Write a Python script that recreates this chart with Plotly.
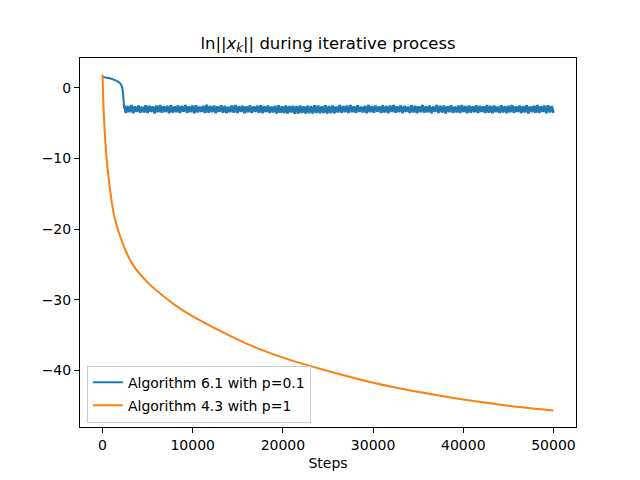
import numpy as np
import plotly.graph_objects as go

# values
orange_steps = [0, 40, 100, 200, 370, 740, 1300, 2220, 3330, 5190, 7040, 8520,
                10200, 13300, 17000, 20700, 24400, 28200, 31900, 35600, 39300,
                43000, 46700, 50000]
orange_vals = [1.9, 0.0, -2.5, -5.2, -8.7, -13.5, -18.2, -22.0, -25.0, -27.8,
               -29.8, -31.2, -32.5, -34.6, -36.8, -38.5, -39.9, -41.2, -42.3,
               -43.2, -44.0, -44.7, -45.3, -45.7]

blue_head_steps = [0, 500, 1000, 1500, 1800, 2000, 2150, 2250, 2320, 2380]
blue_head_vals = [1.55, 1.45, 1.3, 1.05, 0.85, 0.6, 0.2, -0.5, -1.5, -2.8]

# noisy band after the drop (2400 .. 50000)
blue_tail = [
    -2.47, -3.53, -2.56, -3.42, -2.43, -3.57, -2.60, -3.39, -2.51, -3.50, -2.65, -3.46,
    -2.45, -3.55, -2.54, -3.37, -2.62, -3.59, -2.49, -3.44, -2.41, -3.51, -2.58, -3.40,
    -2.52, -3.56, -2.44, -3.47, -2.63, -3.41, -2.48, -3.54, -2.55, -3.35, -2.42, -3.52,
    -2.59, -3.43, -2.50, -3.58, -2.46, -3.45, -2.64, -3.38, -2.53, -3.53, -2.40, -3.49,
    -2.57, -3.42, -2.49, -3.56, -2.61, -3.36, -2.45, -3.50, -2.54, -3.55, -2.67, -3.41,
    -2.48, -3.48, -2.43, -3.54, -2.56, -3.39, -2.52, -3.57, -2.60, -3.44, -2.46, -3.52,
    -2.63, -3.37, -2.51, -3.51, -2.44, -3.58, -2.57, -3.40, -2.49, -3.53, -2.65, -3.45,
    -2.53, -3.60, -2.47, -3.49, -2.62, -3.55, -2.50, -3.61, -2.58, -3.47, -2.54, -3.63,
    -2.55, -3.59, -2.49, -3.54, -2.61, -3.62, -2.52, -3.56, -2.58, -3.60, -2.46, -3.53,
    -2.51, -3.57, -2.60, -3.52, -2.45, -3.61, -2.55, -3.55, -2.48, -3.58, -2.63, -3.46,
    -2.44, -3.50, -2.57, -3.41, -2.50, -3.55, -2.42, -3.43, -2.59, -3.52, -2.47, -3.38,
    -2.64, -3.47, -2.53, -3.56, -2.41, -3.42, -2.56, -3.51, -2.49, -3.36, -2.62, -3.54,
    -2.45, -3.45, -2.58, -3.57, -2.51, -3.40, -2.43, -3.49, -2.60, -3.43, -2.48, -3.55,
    -2.55, -3.39, -2.66, -3.52, -2.46, -3.47, -2.52, -3.58, -2.61, -3.41, -2.44, -3.50,
    -2.57, -3.44, -2.49, -3.56, -2.63, -3.38, -2.42, -3.53, -2.54, -3.46, -2.50, -3.59,
    -2.59, -3.42, -2.47, -3.51, -2.65, -3.45, -2.51, -3.54, -2.43, -3.40, -2.56, -3.57,
    -2.48, -3.48, -2.62, -3.43, -2.45, -3.55, -2.53, -3.37, -2.60, -3.52, -2.41, -3.49,
    -2.55, -3.56, -2.49, -3.41, -2.64, -3.53, -2.46, -3.45, -2.58, -3.58, -2.52, -3.44,
    -2.44, -3.51, -2.61, -3.39, -2.50, -3.55, -2.57, -3.47, -2.47, -3.60, -2.63, -3.42,
    -2.53, -3.50, -2.42, -3.54, -2.59, -3.38, -2.51, -3.57, -2.45, -3.46, -2.56, -3.52,
]
blue_tail_steps = np.linspace(2400, 50000, len(blue_tail))

x_ticks = [0, 10000, 20000, 30000, 40000, 50000]
x_labels = ["0", "10000", "20000", "30000", "40000", "50000"]
y_ticks = [-40, -30, -20, -10, 0]

fig = go.Figure()
# blue series: smooth start drawn thin, dense noisy part drawn a bit heavier
fig.add_trace(go.Scatter(x=blue_head_steps + [blue_tail_steps[0]],
                         y=blue_head_vals + [blue_tail[0]],
                         mode="lines", legendgroup="a",
                         line=dict(color="#1f77b4", width=2, simplify=False),
                         name="Algorithm 6.1 with p=0.1"))
fig.add_trace(go.Scatter(x=blue_tail_steps, y=blue_tail, mode="lines",
                         legendgroup="a", showlegend=False, hoverinfo="skip",
                         line=dict(color="#1f77b4", width=2.8, simplify=False)))
fig.add_trace(go.Scatter(x=orange_steps, y=orange_vals, mode="lines", legendgroup="b",
                         line=dict(color="#ff7f0e", width=2, shape="spline", smoothing=0.8),
                         name="Algorithm 4.3 with p=1"))

axis_style = dict(showline=True, linecolor="black", linewidth=1, mirror=True,
                  ticks="outside", ticklen=5, tickcolor="black", showgrid=False,
                  zeroline=False, tickfont=dict(size=14, color="black"))

fig.update_xaxes(range=[-2500, 52500], tickvals=x_ticks, ticktext=x_labels,
                 title=dict(text="Steps", font=dict(size=14, color="black"), standoff=6),
                 **axis_style)
fig.update_yaxes(range=[-48.05, 4.25], tickvals=y_ticks, **axis_style)

fig.update_layout(
    width=640, height=480,
    margin=dict(l=80, r=64, t=58, b=53),
    paper_bgcolor="white", plot_bgcolor="white",
    font=dict(family="DejaVu Sans", color="black"),
    title=dict(text="ln||<i>x</i><sub><i>k</i></sub>|| during iterative process",
               x=0.5, xref="paper", xanchor="center",
               y=1 - 43 / 480, yref="container", yanchor="middle",
               font=dict(size=16.5, color="black")),
    legend=dict(x=0.014, y=0.012, xanchor="left", yanchor="bottom",
                bgcolor="rgba(255,255,255,0.8)", bordercolor="#cccccc",
                borderwidth=1, font=dict(size=14, color="black"),
                tracegroupgap=2, itemwidth=30),
    showlegend=True,
)

# page body has a default 8px margin; drop it so the figure sits at the corner
fig.write_html("out.html", config={"displayModeBar": False},
               post_script="document.body.style.margin='0px';")
